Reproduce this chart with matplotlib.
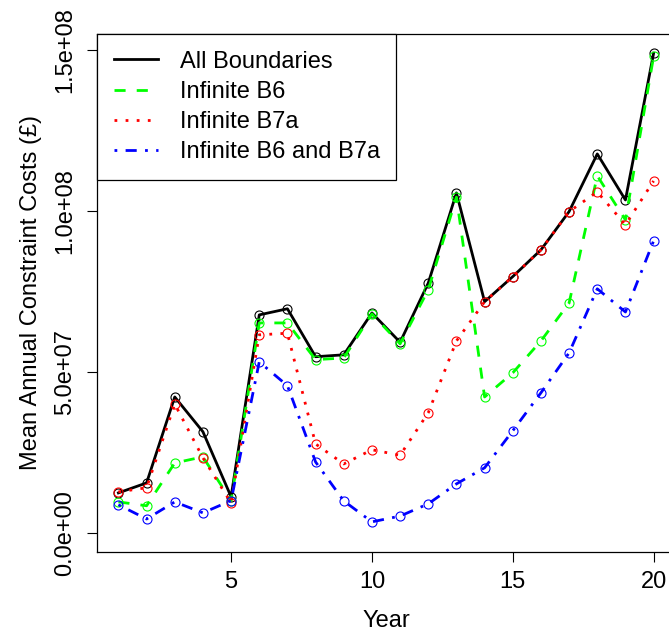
import numpy as np
import matplotlib
matplotlib.use("Agg")
import matplotlib.pyplot as plt
from matplotlib.lines import Line2D
from matplotlib.ticker import FuncFormatter

plt.rcParams['font.family'] = ['Liberation Sans', 'DejaVu Sans']
plt.rcParams['lines.scale_dashes'] = False

years = np.arange(1, 21)

all_boundaries = [1.24e7, 1.55e7, 4.22e7, 3.14e7, 1.12e7, 6.77e7, 6.96e7, 5.47e7, 5.53e7, 6.83e7,
                  5.92e7, 7.76e7, 1.056e8, 7.18e7, 7.96e7, 8.79e7, 9.98e7, 1.177e8, 1.034e8, 1.49e8]
infinite_b6 = [9.6e6, 8.4e6, 2.17e7, 2.36e7, 1.0e7, 6.52e7, 6.52e7, 5.38e7, 5.43e7, 6.8e7,
               5.87e7, 7.55e7, 1.043e8, 4.22e7, 4.97e7, 5.96e7, 7.14e7, 1.109e8, 9.72e7, 1.48e8]
infinite_b7a = [1.27e7, 1.4e7, 4.0e7, 2.33e7, 9.3e6, 6.15e7, 6.2e7, 2.76e7, 2.14e7, 2.58e7,
                2.41e7, 3.73e7, 5.96e7, 7.18e7, 7.96e7, 8.79e7, 9.98e7, 1.059e8, 9.57e7, 1.093e8]
infinite_b6_b7a = [8.7e6, 4.3e6, 9.6e6, 6.2e6, 1.0e7, 5.31e7, 4.57e7, 2.2e7, 9.9e6, 3.4e6,
                   5.2e6, 9.0e6, 1.52e7, 2.02e7, 3.17e7, 4.35e7, 5.59e7, 7.58e7, 6.86e7, 9.07e7]

series = [
    ("All Boundaries", all_boundaries, "black", "-"),
    ("Infinite B6", infinite_b6, "#00ff00", (0, (8, 8))),
    ("Infinite B7a", infinite_b7a, "red", (0, (2, 6))),
    ("Infinite B6 and B7a", infinite_b6_b7a, "blue", (0, (2, 6, 8, 6))),
]

fig = plt.figure(figsize=(6.69, 6.32), dpi=100)
ax = fig.add_axes([0.145, 0.1266, 0.864, 0.8196])

handles = []
for label, vals, col, ls in series:
    ax.plot(years, vals, color=col, linestyle=ls, lw=2, marker='o', ms=6.5,
            mfc='none', mec=col, mew=0.8)
    handles.append(Line2D([], [], color=col, linestyle=ls, lw=2, label=label))

ymax = max(all_boundaries)
ax.set_xlim(1 - 0.04 * 19, 20 + 0.04 * 19)
ax.set_ylim(-0.04 * ymax, 1.04 * ymax)

ax.set_xticks([5, 10, 15, 20])
ax.set_yticks([0, 5e7, 1e8, 1.5e8])
ax.yaxis.set_major_formatter(FuncFormatter(lambda v, p: f"{v:.1e}"))
for lbl in ax.get_yticklabels():
    lbl.set_rotation(90)
    lbl.set_va('center')
ax.tick_params(axis='both', labelsize=17, length=7, width=0.8, pad=7)
ax.tick_params(axis='y', pad=8)

for s in ax.spines.values():
    s.set_linewidth(0.9)

ax.set_xlabel("Year", fontsize=17, labelpad=12)
ax.set_ylabel("Mean Annual Constraint Costs (£)", fontsize=17, labelpad=9)

leg = ax.legend(handles=handles, loc='upper left', fontsize=17, frameon=True,
                fancybox=False, edgecolor='black', framealpha=1, borderaxespad=0,
                borderpad=0.7, handlelength=1.9, handletextpad=0.9, labelspacing=0.35)
leg.get_frame().set_linewidth(0.9)

fig.savefig("out.png", dpi=100)
